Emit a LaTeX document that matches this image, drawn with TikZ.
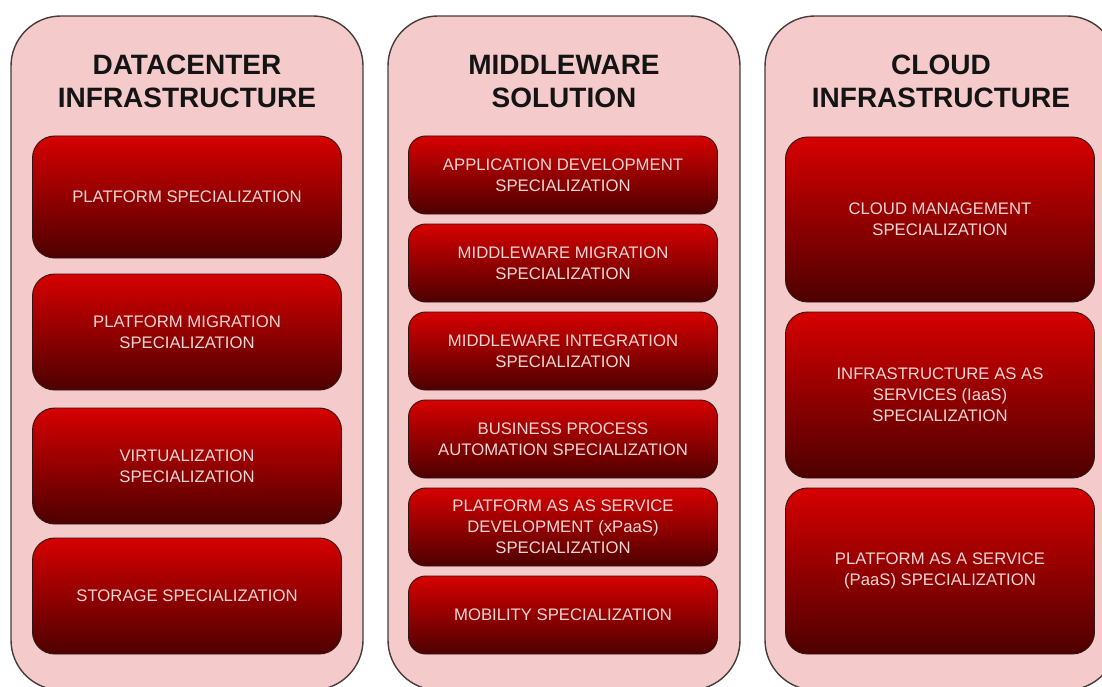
\documentclass[tikz,border=0pt]{standalone}
\usepackage{fontspec}
\setmainfont{Liberation Sans}
\definecolor{colfill}{RGB}{244,202,202}
\definecolor{colborder}{RGB}{70,60,60}
\definecolor{boxtop}{RGB}{214,0,0}
\definecolor{boxbot}{RGB}{78,0,0}
\definecolor{boxborder}{RGB}{50,20,20}
\definecolor{spectext}{RGB}{240,214,214}
\definecolor{titletext}{RGB}{20,20,20}
\begin{document}
\begin{tikzpicture}[x=1pt,y=-1pt,
  column/.style={draw=colborder, line width=1.4pt, fill=colfill, rounded corners=50pt,
    minimum width=352pt, minimum height=674pt, inner sep=0pt},
  coltitle/.style={font=\fontsize{28}{33}\selectfont\bfseries, text=titletext, align=center, inner sep=0pt},
  spec/.style={draw=boxborder, line width=0.9pt, top color=boxtop, bottom color=boxbot,
    minimum width=309pt, text=spectext, align=center, inner sep=0pt,
    font=\fontsize{16.7}{21}\selectfont},
  bigspec/.style={spec, rounded corners=22pt},
  smallspec/.style={spec, rounded corners=17pt, minimum height=78pt}
]
\useasboundingbox (0,0) rectangle (1102,687);
\clip (0,0) rectangle (1102,687);
% columns
\node[column] (colD) at (187,353) {};
\node[column] (colM) at (564,353) {};
\node[column] (colC) at (941,353) {};
% titles
\node[coltitle] (tD) at (187,81.5) {DATACENTER\\INFRASTRUCTURE};
\node[coltitle] (tM) at (564,81.5) {MIDDLEWARE\\SOLUTION};
\node[coltitle] (tC) at (941,81.5) {CLOUD\\INFRASTRUCTURE};
% datacenter boxes
\node[bigspec, minimum height=122pt] (d1) at (187,197) {PLATFORM SPECIALIZATION};
\node[bigspec, minimum height=116pt] (d2) at (187,332) {PLATFORM MIGRATION\\SPECIALIZATION};
\node[bigspec, minimum height=116pt] (d3) at (187,466) {VIRTUALIZATION\\SPECIALIZATION};
\node[bigspec, minimum height=116pt] (d4) at (187,596) {STORAGE SPECIALIZATION};
% middleware boxes
\node[smallspec] (m1) at (563,175) {APPLICATION DEVELOPMENT\\SPECIALIZATION};
\node[smallspec] (m2) at (563,263) {MIDDLEWARE MIGRATION\\SPECIALIZATION};
\node[smallspec] (m3) at (563,351) {MIDDLEWARE INTEGRATION\\SPECIALIZATION};
\node[smallspec] (m4) at (563,439) {BUSINESS PROCESS\\AUTOMATION SPECIALIZATION};
\node[smallspec] (m5) at (563,527) {PLATFORM AS AS SERVICE\\DEVELOPMENT (xPaaS)\\SPECIALIZATION};
\node[smallspec] (m6) at (563,615) {MOBILITY SPECIALIZATION};
% cloud boxes
\node[bigspec, minimum height=165pt] (c1) at (940,219.5) {CLOUD MANAGEMENT\\SPECIALIZATION};
\node[bigspec, minimum height=166pt] (c2) at (940,395) {INFRASTRUCTURE AS AS\\SERVICES (IaaS)\\SPECIALIZATION};
\node[bigspec, minimum height=166pt] (c3) at (940,571) {PLATFORM AS A SERVICE\\(PaaS) SPECIALIZATION};
\end{tikzpicture}
\end{document}
